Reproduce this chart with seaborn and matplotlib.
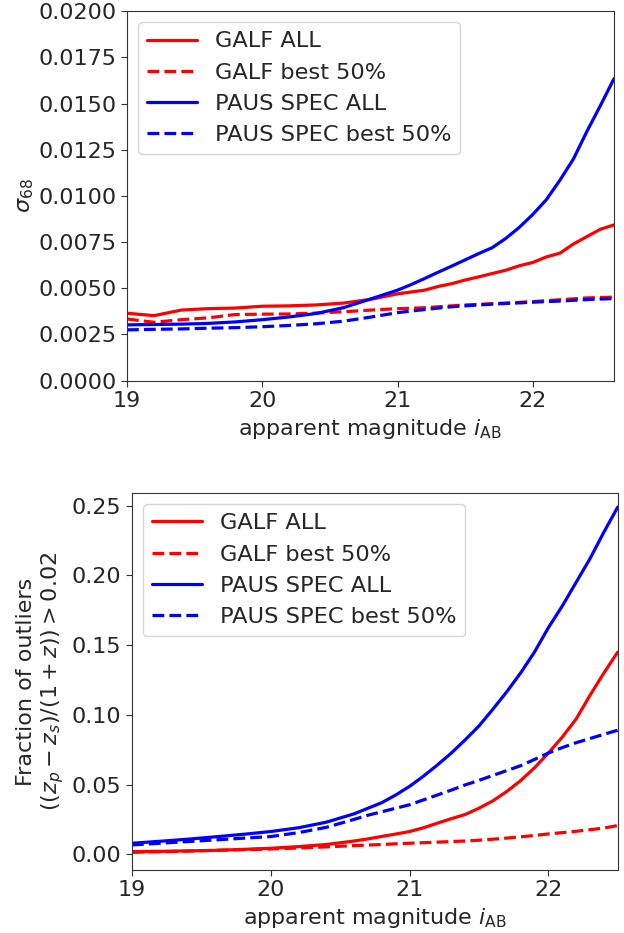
import matplotlib
matplotlib.use("Agg")
import matplotlib.pyplot as plt
import seaborn as sns

# ---- top panel data (sigma_68) ----
mag_top = [19.0, 19.2, 19.4, 19.6, 19.8, 20.0, 20.2, 20.4, 20.6, 20.8,
           21.0, 21.1, 21.2, 21.3, 21.4, 21.5, 21.6, 21.7, 21.8, 21.9,
           22.0, 22.1, 22.2, 22.3, 22.4, 22.5, 22.6]
galf_all_sig = [0.00365, 0.00352, 0.00382, 0.00390, 0.00393, 0.00403, 0.00405, 0.00410, 0.00420, 0.00440,
                0.00470, 0.00480, 0.00490, 0.00510, 0.00525, 0.00545, 0.00562, 0.00580, 0.00598, 0.00622,
                0.00640, 0.00670, 0.00690, 0.00740, 0.00780, 0.00820, 0.00843]
galf_best_sig = [0.00334, 0.00316, 0.00330, 0.00340, 0.00358, 0.00360, 0.00361, 0.00366, 0.00373, 0.00382,
                 0.00390, 0.00392, 0.00395, 0.00400, 0.00405, 0.00410, 0.00413, 0.00417, 0.00420, 0.00424,
                 0.00428, 0.00433, 0.00438, 0.00443, 0.00448, 0.00450, 0.00452]
paus_all_sig = [0.00302, 0.00304, 0.00306, 0.00310, 0.00318, 0.00330, 0.00345, 0.00364, 0.00395, 0.00442,
                0.00490, 0.00520, 0.00553, 0.00587, 0.00620, 0.00654, 0.00688, 0.00720, 0.00770, 0.00830,
                0.00900, 0.00980, 0.01085, 0.01200, 0.01350, 0.01490, 0.01635]
paus_best_sig = [0.00275, 0.00278, 0.00280, 0.00284, 0.00287, 0.00292, 0.00299, 0.00308, 0.00322, 0.00344,
                 0.00368, 0.00377, 0.00385, 0.00393, 0.00400, 0.00405, 0.00410, 0.00414, 0.00418, 0.00421,
                 0.00425, 0.00428, 0.00431, 0.00435, 0.00439, 0.00442, 0.00444]

# ---- bottom panel data (outlier fraction) ----
mag_bot = [19.0, 19.2, 19.4, 19.6, 19.8, 20.0, 20.2, 20.4, 20.6, 20.7,
           20.8, 20.9, 21.0, 21.1, 21.2, 21.3, 21.4, 21.5, 21.6, 21.7,
           21.8, 21.9, 22.0, 22.1, 22.2, 22.3, 22.4, 22.5]
galf_all_out = [0.0019, 0.0021, 0.0024, 0.0028, 0.0035, 0.0043, 0.0055, 0.0070, 0.0095, 0.0110,
                0.0128, 0.0145, 0.0163, 0.0190, 0.0223, 0.0255, 0.0285, 0.0330, 0.0383, 0.0450,
                0.0528, 0.0620, 0.0726, 0.0840, 0.0970, 0.1140, 0.1300, 0.1450]
galf_best_out = [0.0014, 0.0018, 0.0023, 0.0028, 0.0033, 0.0038, 0.0045, 0.0053, 0.0062, 0.0066,
                 0.0070, 0.0075, 0.0079, 0.0083, 0.0087, 0.0091, 0.0095, 0.0101, 0.0108, 0.0116,
                 0.0125, 0.0135, 0.0146, 0.0155, 0.0165, 0.0176, 0.0188, 0.0206]
paus_all_out = [0.0079, 0.0093, 0.0108, 0.0125, 0.0143, 0.0163, 0.0190, 0.0230, 0.0290, 0.0330,
                0.0370, 0.0425, 0.0487, 0.0560, 0.0640, 0.0725, 0.0820, 0.0920, 0.1040, 0.1165,
                0.1300, 0.1450, 0.1625, 0.1780, 0.1950, 0.2120, 0.2310, 0.2490]
paus_best_out = [0.0067, 0.0079, 0.0091, 0.0103, 0.0115, 0.0127, 0.0155, 0.0193, 0.0250, 0.0280,
                 0.0305, 0.0330, 0.0355, 0.0390, 0.0425, 0.0460, 0.0497, 0.0530, 0.0565, 0.0600,
                 0.0635, 0.0680, 0.0726, 0.0765, 0.0800, 0.0830, 0.0860, 0.0890]

labels = ["GALF ALL", "GALF best 50%", "PAUS SPEC ALL", "PAUS SPEC best 50%"]
colors = ["red", "red", "blue", "blue"]
styles = ["-", "--", "-", "--"]

sns.set_style("ticks")
plt.rcParams["font.family"] = ["DejaVu Sans"]
plt.rcParams["mathtext.fontset"] = "dejavusans"
FS = 16

fig = plt.figure(figsize=(6.24, 9.33), dpi=100)
ax1 = fig.add_axes([0.2035, 0.592, 0.7805, 0.396])
ax2 = fig.add_axes([0.2115, 0.0675, 0.7785, 0.404])

top_series = [galf_all_sig, galf_best_sig, paus_all_sig, paus_best_sig]
bot_series = [galf_all_out, galf_best_out, paus_all_out, paus_best_out]

for ys, lab, c, ls in zip(top_series, labels, colors, styles):
    sns.lineplot(x=mag_top, y=ys, ax=ax1, color=c, linestyle=ls, linewidth=2.3, label=lab)
for ys, lab, c, ls in zip(bot_series, labels, colors, styles):
    sns.lineplot(x=mag_bot, y=ys, ax=ax2, color=c, linestyle=ls, linewidth=2.3, label=lab)

ax1.set_xlim(19.0, 22.6)
ax1.set_ylim(0.0, 0.02)
ax1.set_yticks([0.0, 0.0025, 0.005, 0.0075, 0.01, 0.0125, 0.015, 0.0175, 0.02])
ax1.set_yticklabels([f"{v:.4f}" for v in ax1.get_yticks()])
ax1.set_xticks([19, 20, 21, 22])
ax1.set_ylabel(r"$\sigma_{68}$", fontsize=FS, labelpad=2)
ax1.set_xlabel(r"apparent magnitude $i_{\rm AB}$", fontsize=FS)

ax2.set_xlim(19.0, 22.5)
ax2.set_ylim(-0.0113, 0.259)
ax2.set_yticks([0.0, 0.05, 0.10, 0.15, 0.20, 0.25])
ax2.set_yticklabels([f"{v:.2f}" for v in ax2.get_yticks()])
ax2.set_xticks([19, 20, 21, 22])
ax2.set_ylabel("Fraction of outliers\n" + r"$((z_p - z_s)/(1+z)) > 0.02$", fontsize=FS)
ax2.set_xlabel(r"apparent magnitude $i_{\rm AB}$", fontsize=FS)

for ax in (ax1, ax2):
    ax.tick_params(labelsize=FS, length=4, width=0.8, color="#333333")
    for s in ax.spines.values():
        s.set_visible(True)
        s.set_linewidth(0.8)
        s.set_color("#333333")
    ax.legend(loc="upper left", fontsize=16.2, frameon=True, handlelength=2.2,
              labelspacing=0.5)

fig.savefig("out.png", dpi=100)
